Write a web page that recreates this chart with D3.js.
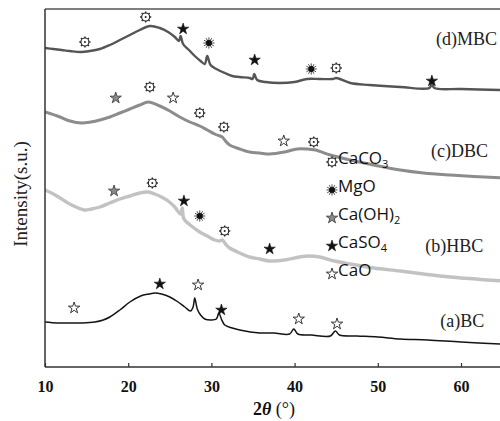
<!DOCTYPE html>
<html>
<head>
<meta charset="utf-8">
<script src="https://cdn.jsdelivr.net/npm/d3@7"></script>
<style>
  body { margin: 0; background: #fff; }
  svg { display: block; }
</style>
</head>
<body>
<div id="xrd"></div>
<script>
// 2theta / intensity readings for each pattern (intensity in arbitrary units)
let mbc = [
  [10.0, 319], [11.0, 318], [12.0, 317], [13.0, 316], [14.2, 315], [15.4, 316], [16.6, 318],
  [17.8, 322], [19.0, 327], [20.2, 332], [21.4, 337], [22.6, 341], [23.8, 339], [24.8, 335],
  [25.6, 330], [26.1, 326], [26.3, 331], [26.6, 323], [27.3, 317], [28.0, 311], [28.7, 306],
  [29.2, 303], [29.5, 311], [29.9, 302], [30.6, 298], [31.6, 294], [32.5, 291], [33.4, 290],
  [34.6, 289], [34.95, 288], [35.15, 293], [35.5, 287], [36.5, 285], [38.2, 284], [40.0, 285],
  [41.5, 288], [43.0, 288], [44.6, 288], [45.0, 289], [46.7, 284], [49.0, 282], [52.7, 280],
  [56.2, 279], [56.5, 283], [56.8, 279], [60.0, 278], [65.0, 277]
];
let dbc = [
  [10.0, 255], [11.8, 250], [13.0, 246], [14.4, 244], [15.5, 245], [16.6, 247], [17.8, 250],
  [19.0, 254], [20.2, 258], [21.4, 262], [22.4, 265], [23.8, 261], [25.0, 256], [26.2, 250],
  [27.4, 245], [28.6, 241], [29.5, 237], [30.4, 233], [31.0, 231], [31.3, 230], [31.8, 225],
  [32.2, 222], [33.4, 218], [34.6, 215], [35.8, 214], [37.0, 213], [38.8, 215], [40.3, 218],
  [41.5, 218], [42.5, 217], [44.3, 212], [46.7, 207], [49.5, 202], [52.7, 197], [55.5, 194],
  [58.7, 192], [65.0, 189]
];
let hbc = [
  [10.0, 177], [11.0, 173], [11.8, 169], [13.2, 162], [14.7, 157], [15.6, 158], [16.6, 160],
  [17.8, 164], [19.0, 168], [20.2, 171], [21.4, 174], [22.4, 175], [23.2, 173], [24.0, 170],
  [24.8, 166], [25.6, 160], [26.3, 153], [26.5, 159], [26.7, 148], [27.6, 141], [28.6, 135],
  [29.5, 131], [30.4, 127], [31.0, 126], [31.3, 127], [31.8, 122], [32.2, 119], [33.4, 114],
  [34.6, 110], [35.8, 108], [37.0, 106], [38.8, 107], [40.6, 110], [41.8, 111], [43.0, 110],
  [44.8, 106], [46.7, 103], [49.5, 99], [52.7, 96], [55.5, 93], [58.7, 90], [65.0, 86]
];
let bc = [
  [10.0, 45], [11.5, 44], [13.0, 44], [14.5, 44], [16.0, 45], [17.0, 47], [17.8, 50],
  [19.0, 57], [20.2, 65], [21.5, 71], [22.5, 73], [23.2, 74], [24.0, 73], [25.0, 70],
  [26.0, 65], [26.8, 60], [27.5, 56], [27.8, 60], [28.0, 69], [28.3, 58], [28.7, 52],
  [29.2, 48], [30.0, 47], [30.6, 48], [30.9, 54], [31.2, 48], [31.6, 42], [32.5, 39],
  [33.4, 37], [35.8, 34], [37.5, 34], [39.4, 33], [39.9, 38], [40.4, 33], [42.0, 32],
  [44.3, 31], [44.9, 36], [45.4, 32], [47.5, 31], [50.0, 30], [52.7, 28], [56.0, 27],
  [60.0, 25], [65.0, 23]
];

let seriesNames = ["(d)MBC", "(c)DBC", "(b)HBC", "(a)BC"];
let seriesColors = ["#555555", "#8c8c8c", "#c2c2c2", "#141414"];
let seriesWidths = [2.4, 3, 3.4, 1.5];
let seriesData = [mbc, dbc, hbc, bc];
// label anchor: 2theta of text start and intensity of baseline
let labelAt = [[57.0, 322], [56.4, 210], [55.7, 115], [57.5, 40]];

// phase markers: [pattern index, 2theta, intensity, phase]
let phases = ["CaCO3", "MgO", "Ca(OH)2", "CaSO4", "CaO"];
let peakMarks = [
  [0, 14.8, 325, "CaCO3"], [0, 22.1, 350, "CaCO3"], [0, 26.6, 338, "CaSO4"], [0, 29.7, 324, "MgO"],
  [0, 35.2, 307, "CaSO4"], [0, 42.0, 298, "MgO"], [0, 45.0, 299, "CaCO3"], [0, 56.5, 286, "CaSO4"],
  [1, 18.5, 269, "Ca(OH)2"], [1, 22.6, 280, "CaCO3"], [1, 25.4, 269, "CaO"], [1, 28.6, 254, "CaCO3"],
  [1, 31.5, 240, "CaCO3"], [1, 38.7, 226, "CaO"], [1, 42.3, 225, "CaCO3"],
  [2, 18.3, 176, "Ca(OH)2"], [2, 22.9, 184, "CaCO3"], [2, 26.7, 166, "CaSO4"], [2, 28.6, 151, "MgO"],
  [2, 31.6, 136, "CaCO3"], [2, 37.0, 118, "CaSO4"],
  [3, 13.5, 59, "CaO"], [3, 23.8, 83, "CaSO4"], [3, 28.4, 82, "CaO"], [3, 31.2, 57, "CaSO4"],
  [3, 40.5, 48, "CaO"], [3, 45.1, 43, "CaO"]
];

let xTicks = [10, 20, 30, 40, 50, 60];

// 1. sizes
let width = 500;
let height = 421;
let margin = {"top": 9, "bottom": 54, "left": 45};
let plotBottom = height - margin.bottom;

// 2. svg
let svg = d3.select("#xrd")
  .append("svg")
  .attr("width", width)
  .attr("height", height);

// 3. scales
var xScale = d3.scaleLinear()
  .domain([10, 65])
  .range([margin.left, margin.left + 55 * 8.32]);

var yScale = d3.scaleLinear()
  .domain([0, plotBottom - margin.top])
  .range([plotBottom, margin.top]);

svg.append("clipPath").attr("id", "plotclip")
  .append("rect")
  .attr("x", margin.left).attr("y", margin.top)
  .attr("width", width - margin.left).attr("height", plotBottom - margin.top);

// 4. patterns
var line = d3.line()
  .x(function(d) { return xScale(d[0]); })
  .y(function(d) { return yScale(d[1]); })
  .curve(d3.curveCatmullRom.alpha(0.5));

svg.append("g")
  .attr("clip-path", "url(#plotclip)")
  .selectAll("path")
  .data(seriesData)
  .enter()
  .append("path")
  .attr("d", line)
  .attr("fill", "none")
  .attr("stroke", function(d, i) { return seriesColors[i]; })
  .attr("stroke-width", function(d, i) { return seriesWidths[i]; })
  .attr("stroke-linejoin", "round");

// pattern labels
svg.append("g")
  .selectAll("text")
  .data(seriesNames)
  .enter()
  .append("text")
  .attr("x", function(d, i) { return xScale(labelAt[i][0]); })
  .attr("y", function(d, i) { return yScale(labelAt[i][1]); })
  .attr("font-family", "Liberation Serif, Times New Roman, serif")
  .attr("font-size", "18px")
  .attr("fill", "#222")
  .text(function(d) { return d; });

// 5. frame and axes
svg.append("line")
  .attr("x1", margin.left).attr("x2", width)
  .attr("y1", margin.top).attr("y2", margin.top)
  .attr("stroke", "#555").attr("stroke-width", 1.5);

svg.append("line")
  .attr("x1", margin.left).attr("x2", margin.left)
  .attr("y1", margin.top).attr("y2", plotBottom)
  .attr("stroke", "#333").attr("stroke-width", 1.5);

var axisx = d3.axisBottom(xScale)
  .tickValues(xTicks)
  .tickSizeInner(-4)
  .tickSizeOuter(0)
  .tickPadding(14);

var gx = svg.append("g")
  .attr("transform", "translate(0," + plotBottom + ")")
  .call(axisx);
gx.select(".domain").attr("stroke", "#333").attr("stroke-width", 1.5)
  .attr("d", "M" + margin.left + ",0H" + width);
gx.selectAll(".tick line").attr("stroke", "#333").attr("stroke-width", 1.2);
gx.selectAll(".tick text")
  .attr("fill", "#111")
  .attr("font-family", "Liberation Serif, Times New Roman, serif")
  .attr("font-weight", "bold")
  .attr("font-size", "16px");

// axis titles
var xt = svg.append("text")
  .attr("x", 274)
  .attr("y", 415)
  .attr("text-anchor", "middle")
  .attr("font-family", "Liberation Serif, Times New Roman, serif")
  .attr("font-size", "18px")
  .attr("fill", "#111");
xt.append("tspan").attr("font-weight", "bold").text("2");
xt.append("tspan").attr("font-weight", "bold").attr("font-style", "italic").text("θ");
xt.append("tspan").text(" (°)");

svg.append("text")
  .attr("transform", "translate(27,194) rotate(-90)")
  .attr("text-anchor", "middle")
  .attr("font-family", "Liberation Serif, Times New Roman, serif")
  .attr("font-size", "19px")
  .attr("fill", "#222")
  .text("Intensity(s.u.)");

// 6. phase symbols
var star = d3.symbol().type(d3.symbolStar).size(40)();

function drawSymbol(g, phase) {
  if (phase == "CaCO3") {
    for (let k = 0; k < 8; k++) {
      let a = k * Math.PI / 4;
      g.append("line")
        .attr("x1", 4 * Math.cos(a)).attr("y1", 4 * Math.sin(a))
        .attr("x2", 5.6 * Math.cos(a)).attr("y2", 5.6 * Math.sin(a))
        .attr("stroke", "#222").attr("stroke-width", 1.3);
    }
    g.append("circle").attr("r", 4).attr("fill", "#fff")
      .attr("stroke", "#222").attr("stroke-width", 1.1);
    g.append("circle").attr("r", 1).attr("fill", "#222");
  } else if (phase == "MgO") {
    for (let k = 0; k < 12; k++) {
      let a = k * Math.PI / 6;
      g.append("line")
        .attr("x1", 0).attr("y1", 0)
        .attr("x2", 5.6 * Math.cos(a)).attr("y2", 5.6 * Math.sin(a))
        .attr("stroke", "#222").attr("stroke-width", 0.8);
    }
    g.append("circle").attr("r", 3).attr("fill", "#111");
  } else if (phase == "Ca(OH)2") {
    g.append("path").attr("d", star).attr("fill", "#8a8a8a")
      .attr("stroke", "#333").attr("stroke-width", 0.8);
  } else if (phase == "CaSO4") {
    g.append("path").attr("d", star).attr("fill", "#111")
      .attr("stroke", "#111").attr("stroke-width", 0.6);
  } else {
    g.append("path").attr("d", star).attr("fill", "#fff")
      .attr("stroke", "#222").attr("stroke-width", 0.9);
  }
}

svg.append("g")
  .selectAll("g")
  .data(peakMarks)
  .enter()
  .append("g")
  .attr("transform", function(d) { return "translate(" + xScale(d[1]) + "," + yScale(d[2]) + ")"; })
  .each(function(d) { drawSymbol(d3.select(this), d[3]); });

// 7. legend
var legend = svg.append("g").attr("transform", "translate(332,162)");

legend.selectAll("g")
  .data(phases)
  .enter()
  .append("g")
  .attr("transform", function(d, i) { return "translate(0," + (i * 28) + ")"; })
  .each(function(d) {
    let g = d3.select(this);
    drawSymbol(g, d);
    let t = g.append("text")
      .attr("x", 6)
      .attr("y", 5.5)
      .attr("font-family", "Open Sans, Noto Sans, sans-serif")
      .attr("font-size", "17px")
      .attr("fill", "#111");
    d.split(/(\d+)/).forEach(function(part) {
      if (part == "") return;
      if (/^\d+$/.test(part)) {
        t.append("tspan").attr("font-size", "11px").attr("dy", 4).text(part);
      } else {
        t.append("tspan").attr("dy", t.selectAll("tspan").size() ? -4 : 0).text(part);
      }
    });
  });
</script>
</body>
</html>
